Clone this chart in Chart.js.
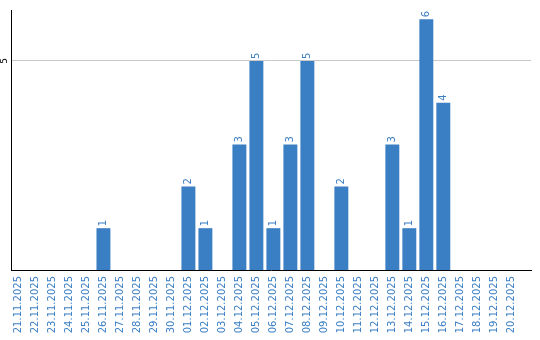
<!DOCTYPE html>
<html><head><meta charset="utf-8">
<script src="https://cdn.jsdelivr.net/npm/chart.js@4/dist/chart.umd.min.js"></script>
<style>html,body{margin:0;padding:0;background:#fff}#w{width:540px;height:340px}</style>
</head><body><div id="w"><canvas id="c"></canvas></div>
<script>
const categories = ["21.11.2025","22.11.2025","23.11.2025","24.11.2025","25.11.2025","26.11.2025","27.11.2025","28.11.2025","29.11.2025","30.11.2025","01.12.2025","02.12.2025","03.12.2025","04.12.2025","05.12.2025","06.12.2025","07.12.2025","08.12.2025","09.12.2025","10.12.2025","11.12.2025","12.12.2025","13.12.2025","14.12.2025","15.12.2025","16.12.2025","17.12.2025","18.12.2025","19.12.2025","20.12.2025"];
const values = [0,0,0,0,0,1,0,0,0,0,2,1,0,3,5,1,3,5,0,2,0,0,3,1,6,4,0,0,0,0];
const yTicks = [5];
const BLUE = '#3a7ec4';

const labelsPlugin = {
  id: 'labelsPlugin',
  afterDatasetsDraw(chart) {
    const ctx = chart.ctx;
    const meta = chart.getDatasetMeta(0);
    ctx.save();
    ctx.font = '10px "DejaVu Sans"';
    ctx.fillStyle = BLUE;
    ctx.textAlign = 'left';
    ctx.textBaseline = 'middle';
    meta.data.forEach((bar, i) => {
      const v = values[i];
      if (!v) return;
      ctx.save();
      ctx.translate(bar.x, bar.y - 2);
      ctx.rotate(-Math.PI / 2);
      ctx.fillText(String(v), 0, 0);
      ctx.restore();
    });
    const ys = chart.scales.y;
    ctx.font = '9px "DejaVu Sans"';
    ctx.fillStyle = '#000';
    ctx.textAlign = 'center';
    yTicks.forEach(t => {
      ctx.save();
      ctx.translate(5, ys.getPixelForValue(t));
      ctx.rotate(-Math.PI / 2);
      ctx.fillText(String(t), 0, 0);
      ctx.restore();
    });
    ctx.restore();
  }
};

new Chart(document.getElementById('c'), {
  type: 'bar',
  data: { labels: categories, datasets: [{ data: values, backgroundColor: BLUE, barPercentage: 0.82, categoryPercentage: 1.0 }] },
  options: {
    responsive: true, maintainAspectRatio: false, animation: false,
    layout: { padding: { top: 10, right: 9, left: 0, bottom: 0 } },
    plugins: { legend: { display: false }, tooltip: { enabled: false } },
    scales: {
      x: {
        grid: { display: false, drawTicks: false },
        border: { color: '#000', width: 1 },
        ticks: { color: BLUE, font: { family: 'DejaVu Sans', size: 10 }, minRotation: 90, maxRotation: 90, autoSkip: false, padding: 6 },
        afterBuildTicks(s) { s._startValue = -0.44; s._valueRange = 30.6; },
        afterFit(s) { s.height = 70; }
      },
      y: {
        min: 0, max: 6.22,
        afterBuildTicks(s) { s.ticks = yTicks.map(v => ({ value: v })); },
        grid: { color: '#c8c8c8', drawTicks: false },
        border: { color: '#000', width: 1 },
        ticks: { display: false },
        afterFit(s) { s.width = 11; }
      }
    }
  },
  plugins: [labelsPlugin]
});
</script></body></html>
